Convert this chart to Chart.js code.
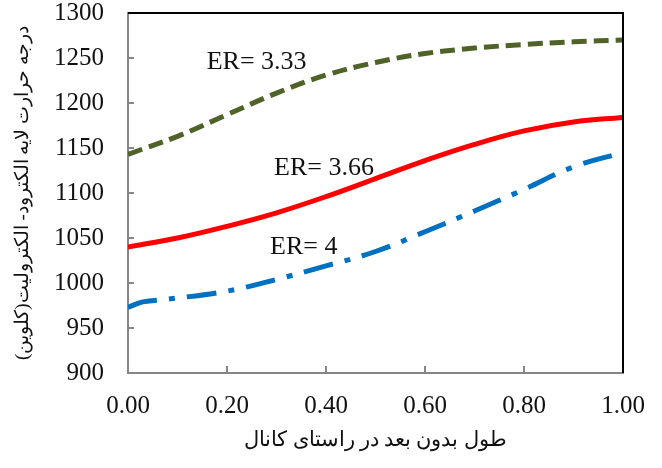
<!DOCTYPE html>
<html lang="fa">
<head>
  <meta charset="UTF-8">
  <title>ER chart</title>
  <style>
    html, body { margin: 0; padding: 0; background: #fff; }
    #wrap { width: 662px; height: 468px; }
  </style>
</head>
<body>
  <div id="wrap"><canvas id="chart" width="662" height="468"></canvas></div>

  <script src="https://cdn.jsdelivr.net/npm/chart.js"></script>
  <script>
    // داده ها (خوانده شده از تصویر)
    const xTitle = 'طول بدون بعد در راستای کانال';
    const yTitle = 'درجه حرارت لایه الکترود- الکترولیت(کلوین)';

    const xGreen = [0, 0.1, 0.2, 0.3, 0.4, 0.5, 0.6, 0.7, 0.8, 0.9, 1.0];
    const er333 = [1143, 1163, 1187, 1211, 1231, 1245, 1255, 1261, 1265, 1268, 1270];

    const xRed = [0, 0.1, 0.2, 0.3, 0.4, 0.5, 0.6, 0.7, 0.8, 0.9, 1.0];
    const er366 = [1040, 1050, 1063, 1078, 1096, 1116, 1136, 1154, 1169, 1179, 1184];

    const xBlue = [0, 0.03, 0.08, 0.2, 0.3, 0.4, 0.5, 0.6, 0.7, 0.8, 0.9, 1.0];
    const er4 = [973, 979, 982, 991, 1004, 1019, 1035, 1057, 1080, 1104, 1129, 1145];

    const seriesNames = ['ER= 3.33', 'ER= 3.66', 'ER= 4'];
    // محل برچسب ها بر حسب مقادیر محور
    const labelX = [0.159, 0.295, 0.287];
    const labelY = [1245, 1128, 1040];

    const toPoints = (xs, ys) => xs.map((x, i) => ({ x: x, y: ys[i] }));

    // قاب بالا و راست + برچسب منحنی ها
    const framePlugin = {
      id: 'frame',
      afterDatasetsDraw(chart) {
        const { ctx, chartArea: a, scales } = chart;
        ctx.save();
        ctx.strokeStyle = '#000';
        ctx.lineWidth = 2;
        ctx.beginPath();
        ctx.moveTo(a.left, a.top);
        ctx.lineTo(a.right, a.top);
        ctx.lineTo(a.right, a.bottom);
        ctx.stroke();

        ctx.fillStyle = '#111';
        ctx.font = '26px "Liberation Serif", "Times New Roman", serif';
        ctx.textAlign = 'left';
        ctx.textBaseline = 'middle';
        seriesNames.forEach((name, i) => {
          ctx.fillText(name, scales.x.getPixelForValue(labelX[i]), scales.y.getPixelForValue(labelY[i]));
        });
        ctx.restore();
      }
    };

    const serif = '"Liberation Serif", "Times New Roman", serif';

    // حذف فاصله خودکار محورها تا ناحیه رسم ثابت بماند
    const noPad = s => {
      s.paddingTop = 0;
      s.paddingBottom = 0;
      s.paddingLeft = 0;
      s.paddingRight = 0;
    };

    new Chart(document.getElementById('chart'), {
      type: 'line',
      data: {
        datasets: [
          {
            label: seriesNames[0],
            data: toPoints(xGreen, er333),
            borderColor: '#4f6228',
            borderWidth: 5,
            borderDash: [15, 7],
            tension: 0.4,
            pointRadius: 0,
            fill: false
          },
          {
            label: seriesNames[1],
            data: toPoints(xRed, er366),
            borderColor: '#ff0000',
            borderWidth: 5,
            tension: 0.4,
            pointRadius: 0,
            fill: false
          },
          {
            label: seriesNames[2],
            data: toPoints(xBlue, er4),
            borderColor: '#0070c0',
            borderWidth: 5,
            borderDash: [30, 12, 6, 12],
            tension: 0.4,
            pointRadius: 0,
            fill: false
          }
        ]
      },
      options: {
        responsive: false,
        animation: false,
        layout: { padding: { top: 13, right: 39, left: 0, bottom: 0 } },
        plugins: {
          legend: { display: false },
          tooltip: { enabled: false }
        },
        scales: {
          x: {
            type: 'linear',
            min: 0,
            max: 1,
            border: { color: '#868686', width: 2 },
            grid: {
              drawOnChartArea: false,
              drawTicks: true,
              tickLength: -7,
              color: '#868686',
              lineWidth: 2
            },
            ticks: {
              stepSize: 0.2,
              padding: 25,
              color: '#111',
              font: { family: serif, size: 25 },
              callback: v => v.toFixed(2)
            },
            title: {
              display: true,
              text: '\u202B' + xTitle + '\u202C',
              color: '#111',
              font: { family: serif, size: 21 },
              padding: { top: 0, bottom: 15 }
            },
            afterFit: s => { s.height = 95; noPad(s); }
          },
          y: {
            min: 900,
            max: 1300,
            border: { color: '#868686', width: 2 },
            grid: {
              drawOnChartArea: false,
              drawTicks: true,
              tickLength: -6,
              color: '#868686',
              lineWidth: 2
            },
            ticks: {
              stepSize: 50,
              padding: 30,
              color: '#111',
              font: { family: serif, size: 25 },
              callback: v => String(v)
            },
            title: {
              display: true,
              text: '\u202B' + yTitle + '\u202C',
              color: '#111',
              font: { family: serif, size: 19 },
              padding: { top: 12, bottom: 0 }
            },
            afterFit: s => { s.width = 128; noPad(s); }
          }
        }
      },
      plugins: [framePlugin]
    });
  </script>
</body>
</html>
